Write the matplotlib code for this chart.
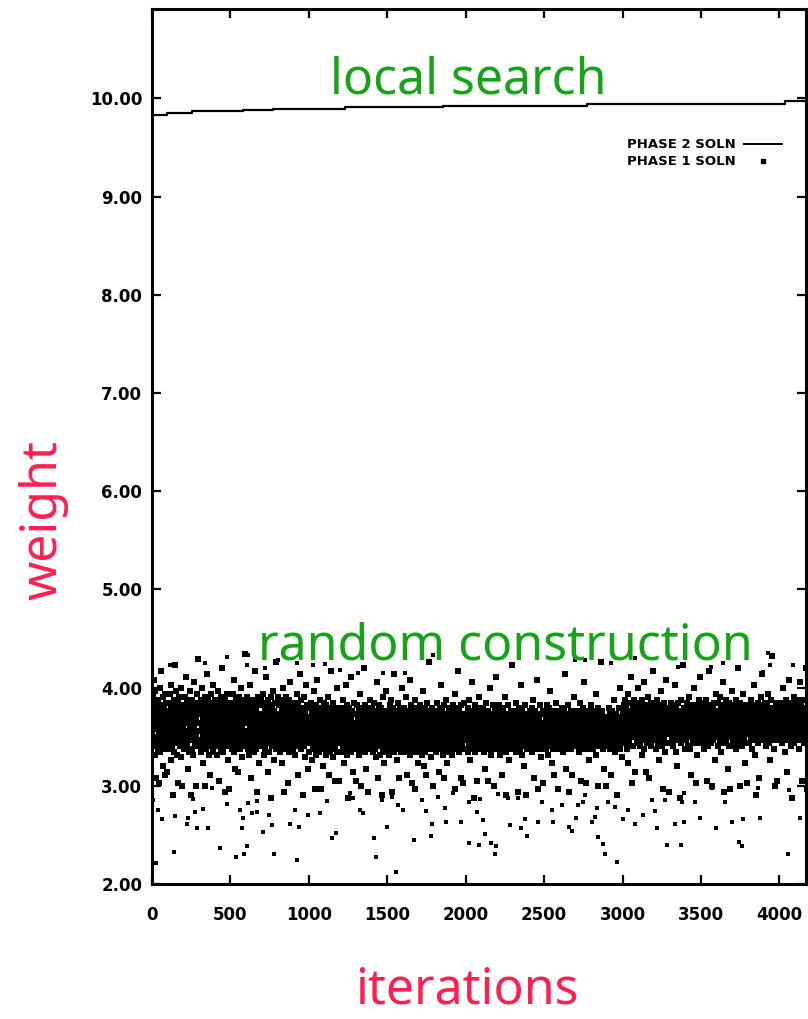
import numpy as np
import matplotlib
matplotlib.use('Agg')
import matplotlib.pyplot as plt
from matplotlib.lines import Line2D

# phase 2 (local search) best weight, step changes
phase2_iter = [0, 96, 255, 580, 770, 1230, 1856, 2775, 4038, 4170]
phase2_weight = [9.83, 9.85, 9.87, 9.88, 9.89, 9.91, 9.92, 9.94, 9.97, 9.97]

# phase 1 (random construction) weights, every 2nd iteration,
# estimated by eye; code c means weight 1.70 + c/34
phase1_codes = """
70 62 75 58 66 81 60 72 55 68 64 77 59 71 47 65 73 61 69 57 74 63 45 67 78 60 70 56 66 84 62 72 58 68 51 75 64 59 71 65 48 69 61 76 57 67 73 49 63 70
66 59 73 62 70 57 76 64 68 53 71 60 79 65 58 72 41 67 63 74 56 69 61 86 66 72 59 64 77 55 70 62 68 45 73 60 66 75 58 63 71 67 54 78 61 69 44 65 72 60
64 71 57 68 75 62 59 70 66 82 58 73 63 67 50 74 61 69 56 72 65 60 77 68 41 63 71 57 66 74 62 69 55 80 64 70 59 67 73 61 44 68 76 63 58 71 66 88 60 69
72 63 58 69 66 74 60 56 71 65 78 62 68 52 73 59 67 61 75 64 44 70 57 66 72 63 83 59 68 61 74 55 69 65 71 48 62 76 58 67 73 60 64 70 56 79 66 62 71 68
61 67 74 58 70 63 66 55 72 60 68 77 64 59 71 46 65 73 62 69 57 75 63 67 85 60 70 56 66 72 61 68 42 74 59 65 71 64 58 76 62 69 53 67 73 60 66 43 70 63
68 60 73 65 57 71 62 76 59 67 64 81 56 70 63 69 50 74 61 66 72 58 68 64 49 71 60 75 63 57 69 66 73 59 78 62 68 54 65 71 60 67 74 58 63 90 69 61 66 72
59 66 71 63 75 57 68 62 70 55 73 64 60 67 79 61 72 47 65 58 69 74 62 66 56 71 63 68 84 60 64 73 57 70 42 66 61 75 59 67 63 52 72 65 69 58 74 62 68 60
65 72 58 67 63 76 60 69 55 71 64 57 73 66 61 82 68 59 70 49 63 74 62 67 56 72 65 60 69 40 75 58 66 71 63 77 59 68 64 53 70 61 67 73 57 65 87 62 69 66
63 69 75 60 66 58 72 64 68 56 74 61 67 70 52 65 59 73 62 78 66 42 69 57 71 64 60 67 75 58 63 70 45 66 72 61 68 56 74 62 80 65 59 71 63 67 57 69 64 73
70 57 64 68 61 73 66 55 71 59 67 63 76 60 69 48 65 72 62 58 70 66 83 61 68 57 74 63 69 60 41 66 71 64 58 75 62 67 54 70 63 79 59 68 65 72 60 50 66 62
62 68 56 71 64 59 67 73 60 65 53 70 58 66 62 77 57 69 63 43 67 60 72 55 64 68 61 81 58 66 70 63 56 69 61 74 59 65 43 67 62 57 71 64 60 68 51 66 73 59
64 58 70 61 67 55 72 63 59 66 69 57 75 62 65 48 68 60 71 56 63 67 84 59 70 62 54 66 73 61 58 68 64 46 69 57 65 71 60 63 78 56 67 62 70 59 64 46 68 61
60 67 63 56 71 59 65 69 62 74 57 66 52 68 61 64 70 58 79 63 67 55 72 60 65 40 69 62 57 71 64 59 67 61 82 56 68 63 70 58 65 49 62 73 60 66 57 69 64 46
66 61 69 57 64 72 59 67 62 55 70 63 58 76 65 60 68 44 62 71 57 66 63 69 59 85 64 61 67 56 72 60 65 50 68 62 58 70 63 66 42 61 69 57 74 64 59 67 62 71
58 65 71 62 67 56 63 69 60 73 57 66 61 54 68 64 80 59 70 62 65 47 67 58 72 63 60 68 55 66 71 61 64 41 69 57 63 75 60 67 62 52 70 59 65 68 56 77 63 61
63 70 57 66 61 68 64 55 72 59 65 62 74 58 67 42 69 60 63 71 56 66 62 83 59 68 64 57 70 61 65 53 67 60 73 58 63 69 47 66 62 59 71 64 56 68 61 78 65 60
67 60 64 58 71 63 56 69 62 66 75 59 65 48 68 61 57 70 64 60 67 81 55 63 69 58 72 62 66 45 60 68 63 57 71 65 59 74 62 67 43 61 69 56 64 70 58 66 63 52
61 66 59 72 63 57 68 64 60 70 55 67 62 77 58 65 69 51 63 60 71 56 66 64 48 68 59 62 73 57 65 61 87 67 58 63 70 60 66 54 69 62 57 64 71 59 67 44 61 65
64 59 68 62 56 70 65 60 67 73 58 63 69 57 66 61 49 71 64 59 66 79 62 57 68 63 70 55 65 60 72 47 67 62 58 69 64 61 74 56 66 63 52 68 60 65 71 57 62 67
59 67 62 70 57 64 68 61 55 72 63 66 58 69 60 76 65 43 62 67 59 71 64 57 66 61 84 68 62 56 70 63 59 67 47 64 72 60 65 58 69 62 45 66 61 73 57 64 68 60
66 62 57 69 64 60 71 56 67 63 74 59 65 61 53 68 62 58 70 64 80 57 66 61 69 40 63 67 59 72 62 56 68 65 60 71 46 63 66 58 69 61 75 64 57 67 62 59 70 63
62 68 60 65 58 71 63 56 67 61 69 64 50 66 59 73 62 57 68 64 60 70 46 65 62 58 67 63 78 59 66 61 55 69 64 60 72 57 65 62 68 44 63 59 70 66 61 82 58 64
57 64 69 61 66 59 72 63 58 67 62 55 70 65 60 68 48 63 66 57 71 62 59 68 64 75 61 56 67 63 41 69 60 65 58 72 62 66 53 64 60 69 57 67 63 61 70 59 86 65
65 60 67 62 57 70 64 59 66 73 61 56 68 63 58 69 62 42 65 71 60 64 57 67 63 79 59 66 61 70 55 64 68 60 62 51 67 58 65 72 61 63 41 68 59 66 62 57 69 64
61 68 58 64 70 62 57 66 63 60 71 56 67 62 74 59 65 61 47 68 63 58 70 64 60 66 81 57 69 62 65 59 43 67 61 64 72 58 63 66 54 69 60 65 62 57 70 63 45 66
64 59 66 61 69 57 63 67 60 72 58 65 62 55 68 64 59 71 61 77 66 58 63 69 52 62 67 60 65 57 70 63 61 48 68 59 64 66 62 73 57 65 60 68 43 63 61 67 58 70
60 66 63 58 68 62 71 59 65 61 56 67 64 70 58 63 83 61 66 59 69 50 64 60 67 62 57 72 63 65 42 61 68 59 66 63 57 70 62 64 48 67 60 65 75 58 63 69 61 66
63 58 67 61 65 70 59 64 62 68 56 66 60 73 63 58 67 46 62 65 59 69 61 64 57 71 66 60 80 63 58 68 62 45 65 60 67 63 57 70 64 61 53 66 59 68 62 64 72 60
66 61 64 59 69 63 57 67 62 70 60 65 58 68 63 76 61 55 66 64 59 71 62 44 67 60 63 69 58 65 62 67 87 59 64 61 70 57 66 63 60 68 50 64 62 58 67 65 44 63
59 65 62 68 60 64 71 58 66 63 57 69 61 65 48 67 62 60 70 64 58 66 74 61 63 67 56 65 62 69 59 64 41 68 61 66 63 58 71 60 65 78 62 57 67 64 61 68 54 63
67 62 70 64 59 72 66 61 68 74 60 65 71 57 69 63 76 52 67 62 70 65 60 73 58 68 82 64 61 69 66 45 71 63 58 67 74 61 65 70 49 66 62 69 72 59 64 67 78 61
64 70 61 67 73 58 66 62 71 65 68 55 63 74 60 69 66 80 62 57 70 64 67 72 49 61 68 65 59 71 63 66 75 60 68 62 47 70 65 61 67 73 58 64 69 62 84 66 71 60
69 63 66 72 60 68 64 57 71 65 62 74 67 59 70 63 53 68 66 61 72 64 77 60 69 65 58 71 43 67 62 68 73 60 65 70 63 56 69 66 81 62 67 64 71 59 68 42 63 70
62 68 71 65 59 67 73 63 69 60 66 72 58 64 70 67 61 79 65 56 68 71 62 66 51 69 64 60 73 67 63 70 40 65 61 68 74 59 66 70 62 64 86 67 60 71 65 63 69 57
70 64 60 68 66 73 61 67 58 71 65 62 69 75 63 57 68 66 48 70 64 61 72 67 59 65 69 78 62 66 71 60 68 45 64 70 63 67 55 72 65 61 69 66 74 59 63 68 82 65
65 71 62 67 59 70 64 68 72 61 66 57 73 63 69 65 60 74 46 67 62 70 64 58 71 66 84 61 68 63 65 72 59 69 44 64 67 62 71 60 66 73 63 68 53 65 70 61 67 76
66 61 69 73 64 58 70 65 62 68 75 60 67 63 71 56 66 70 64 80 61 68 42 65 72 59 67 63 69 66 60 74 62 68 65 50 71 64 58 69 67 73 61 43 66 70 63 68 62 77
68 64 71 60 67 65 58 72 63 69 66 61 74 57 68 70 64 62 85 67 59 71 65 44 68 62 73 66 60 69 64 71 58 67 63 76 65 61 70 68 52 64 72 59 66 69 45 63 67 71
63 69 66 72 59 67 62 70 65 74 60 68 64 57 71 66 61 69 79 63 67 55 72 64 60 68 66 41 70 62 65 73 59 67 64 71 47 66 69 62 75 63 68 60 72 65 83 67 61 70
71 65 60 68 73 62 67 64 70 58 66 72 63 69 61 76 65 59 68 53 71 64 67 62 74 66 60 89 69 63 65 71 57 68 64 44 70 62 67 73 60 66 69 64 46 71 63 68 65 72
64 70 67 61 72 65 68 59 66 73 63 70 62 78 67 60 69 64 71 56 66 74 62 68 65 49 70 63 67 72 60 81 66 69 62 64 71 58 68 40 65 73 61 67 70 63 66 75 59 68
67 62 72 66 69 60 70 64 68 74 61 67 57 71 65 63 69 80 66 60 72 64 46 68 62 70 65 71 59 67 74 63 69 66 61 85 68 64 70 43 65 72 62 67 69 60 71 64 66 73
"""

# isolated low phase 1 solutions (below ~3.0)
low_iter = [6, 26, 38, 64, 140, 147, 223, 230, 262, 274, 287, 325, 357, 383, 434, 478,
            536, 561, 574, 581, 587, 606, 612, 638, 670, 670, 708, 746, 766, 778, 880, 912,
            925, 938, 995, 1072, 1116, 1148, 1174, 1263, 1282, 1327, 1346, 1416, 1429, 1467,
            1499, 1531, 1557, 1569, 1601, 1671, 1722, 1748, 1780, 1786, 1825, 1869, 1876,
            1920, 1971, 2022, 2022, 2073, 2086, 2093, 2112, 2124, 2163, 2188, 2195, 2207,
            2271, 2284, 2335, 2354, 2380, 2392, 2463, 2488, 2552, 2558, 2616, 2660, 2679,
            2705, 2718, 2750, 2762, 2807, 2826, 2839, 2845, 2877, 2890, 2909, 2954, 2967,
            3005, 3037, 3081, 3132, 3190, 3209, 3222, 3273, 3285, 3337, 3375, 3381, 3394,
            3394, 3464, 3496, 3573, 3598, 3656, 3700, 3745, 3764, 3770, 3866, 3879, 4057,
            4064, 4134]
low_weight = [2.86, 2.21, 2.75, 2.66, 2.33, 2.69, 2.61, 2.67, 2.87, 2.73, 2.57, 2.76, 2.57, 2.98, 2.37, 2.81,
              2.27, 2.75, 2.57, 2.67, 2.31, 2.39, 2.82, 2.72, 2.85, 2.73, 2.53, 2.70, 2.60, 2.31, 2.61, 2.75,
              2.24, 2.58, 2.70, 2.72, 2.85, 2.47, 2.52, 2.93, 2.88, 2.75, 2.72, 2.47, 2.28, 2.86,
              2.58, 2.89, 2.12, 2.80, 2.75, 2.45, 2.86, 2.74, 2.49, 2.61, 2.89, 2.77, 2.63,
              2.93, 2.63, 2.83, 2.42, 2.73, 2.40, 2.87, 2.65, 2.51, 2.42, 2.31, 2.39, 2.92,
              2.88, 2.60, 2.88, 2.57, 2.66, 2.49, 2.63, 2.83, 2.75, 2.63, 2.80, 2.58, 2.54,
              2.67, 2.80, 2.84, 2.91, 2.63, 2.68, 2.77, 2.48, 2.41, 2.31, 2.83, 2.78, 2.22,
              2.66, 2.75, 2.61, 2.70, 2.86, 2.74, 2.57, 2.86, 2.40, 2.61, 2.40, 2.84, 2.63,
              2.93, 2.83, 2.67, 2.98, 2.57, 2.83, 2.63, 2.43, 2.39, 2.66, 2.98, 2.67, 2.31,
              2.96, 2.67]

# isolated high phase 1 solutions (above ~4.1)
high_iter = [115, 338, 478, 606, 612, 721, 804, 925, 1027, 1104, 1199, 1314, 1474, 1614,
             1793, 2699, 2762, 2928, 3081, 3356, 3566, 3643, 3898, 3930, 3943, 4089]
high_weight = [4.23, 4.25, 4.31, 4.23, 4.33, 4.20, 4.28, 4.25, 4.23, 4.24, 4.18, 4.15, 4.15, 4.15,
               4.33, 4.28, 4.28, 4.25, 4.30, 4.21, 4.21, 4.25, 4.16, 4.35, 4.23, 4.23]

band_weight = 1.70 + np.array(phase1_codes.split(), dtype=float) / 34.0
band_iter = np.arange(len(band_weight)) * 2

green = '#17a317'
red = '#ff1f4f'

fig = plt.figure(figsize=(8.08, 10.19), dpi=100)
ax = fig.add_axes([152/808, 1 - 884/1019, 654/808, 875/1019])

ax.scatter(band_iter, band_weight, s=15, marker='s', color='k', linewidths=0,
           antialiased=False)
ax.scatter(low_iter, low_weight, s=9, marker='s', color='k', linewidths=0,
           antialiased=False)
ax.scatter(high_iter, high_weight, s=9, marker='s', color='k', linewidths=0,
           antialiased=False)
ax.plot(phase2_iter, phase2_weight, color='k', lw=1.6, drawstyle='steps-post')

ax.set_xlim(0, 4170)
ax.set_ylim(2.0, 10.91)
ax.set_xticks(np.arange(0, 4001, 500))
ax.set_yticks(np.arange(2, 11, 1))
ax.yaxis.set_major_formatter(matplotlib.ticker.FormatStrFormatter('%.2f'))

for sp in ax.spines.values():
    sp.set_linewidth(2.2)
ax.tick_params(direction='in', length=6.5, width=1.6, top=True, right=True)
ax.tick_params(axis='y', pad=7)
ax.tick_params(axis='x', pad=16)
for lab in ax.get_xticklabels() + ax.get_yticklabels():
    lab.set_fontsize(12)
    lab.set_fontweight('bold')

handles = [Line2D([], [], color='k', lw=1.4),
           Line2D([], [], color='k', marker='s', ls='none', markersize=2.5)]
ax.legend(handles, ['PHASE 2 SOLN', 'PHASE 1 SOLN'], loc='upper right',
          bbox_to_anchor=(0.963, 0.852), frameon=False, markerfirst=False,
          handlelength=2.9, handletextpad=0.6, labelspacing=0.3,
          borderpad=0, borderaxespad=0, prop={'weight': 'bold', 'size': 9.5})

fig.text(330/808, 1 - 93/1019, 'local search', color=green, fontsize=36,
         family='Noto Sans', ha='left', va='baseline')
fig.text(258/808, 1 - 660/1019, 'random construction', color=green, fontsize=36,
         family='Noto Sans', ha='left', va='baseline')
fig.text(355/808, 1 - 1004/1019, 'iterations', color=red, fontsize=36,
         family='Noto Sans', ha='left', va='baseline')
fig.text(56/808, 1 - 600/1019, 'weight', color=red, fontsize=36,
         family='Noto Sans', ha='left', va='baseline', rotation=90,
         rotation_mode='anchor')

plt.savefig('out.png', dpi=100)
plt.close(fig)
